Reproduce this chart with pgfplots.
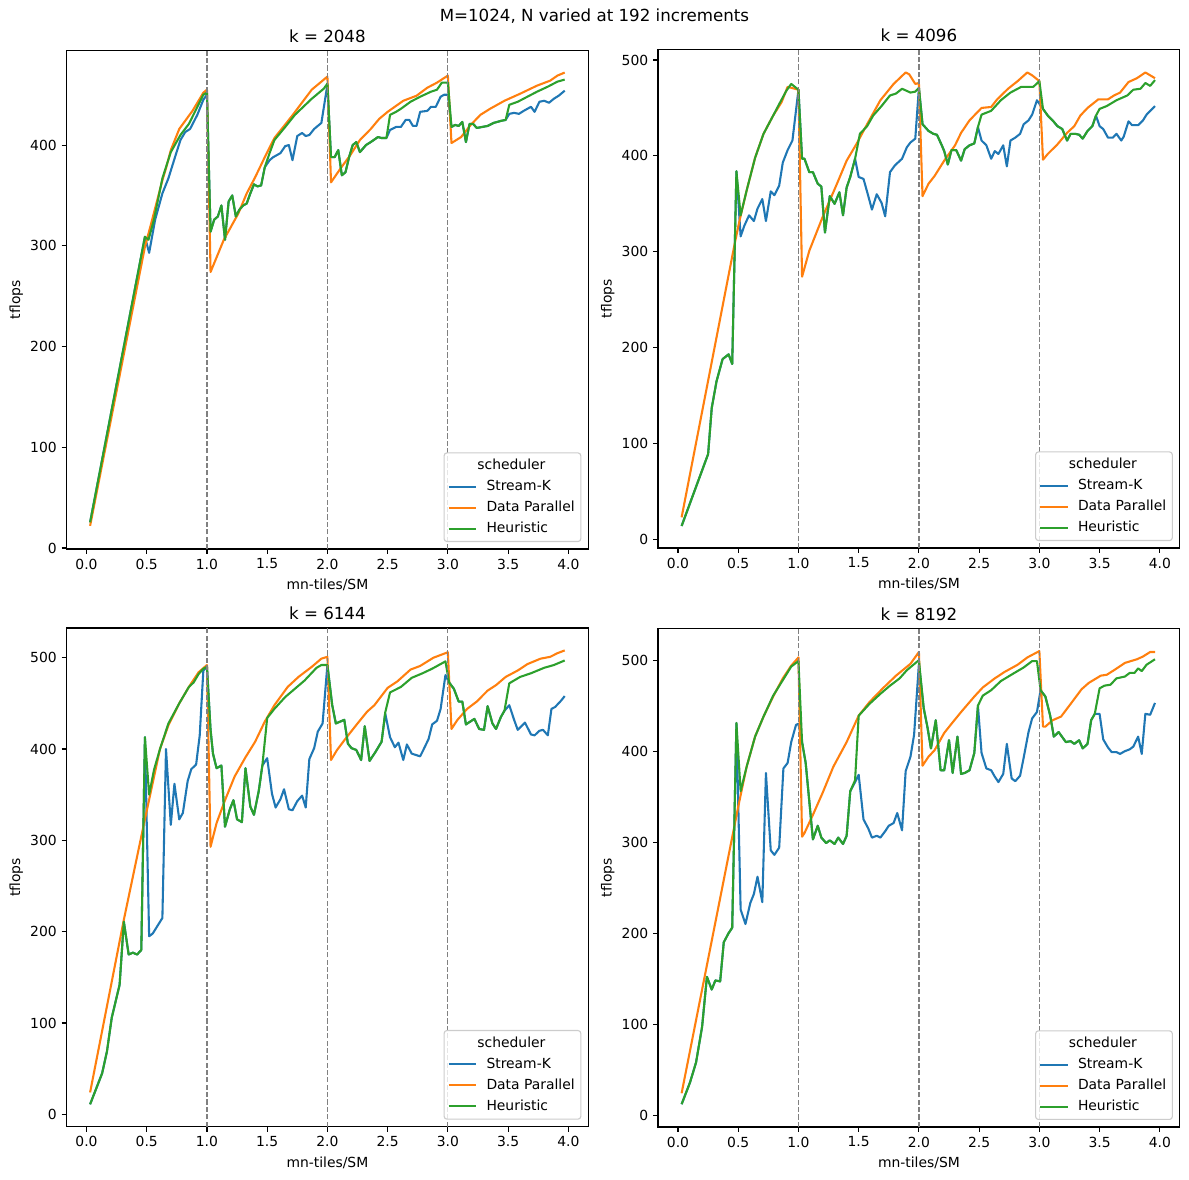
\documentclass[border=0pt]{standalone}
\usepackage{fontspec}
\setmainfont{DejaVu Sans}
\usepackage{pgfplots}
\pgfplotsset{compat=1.18}
\definecolor{c0}{HTML}{1F77B4}
\definecolor{c1}{HTML}{FF7F0E}
\definecolor{c2}{HTML}{2CA02C}
\pgfplotsset{
 panel/.style={
  scale only axis, width=375.7bp, height=359bp,
  xmin=-0.166, xmax=4.166,
  xtick={0,0.5,1,1.5,2,2.5,3,3.5,4},
  xticklabel style={/pgf/number format/.cd, fixed, fixed zerofill, precision=1},
  /pgf/number format/assume math mode=true,
  tick label style={font=\fontsize{10bp}{12bp}\selectfont},
  label style={font=\fontsize{10bp}{12bp}\selectfont},
  xtick pos=bottom, ytick pos=left, tick align=outside,
  major tick length=3.5bp,
  every tick/.style={black, line width=0.8bp},
  axis line style={line width=0.8bp},
  xlabel={mn-tiles/SM}, ylabel={tflops},
  xlabel style={at={(axis description cs:0.5,-0.0724)}, anchor=center},
  ylabel style={at={(axis description cs:-0.096,0.5)}, anchor=center},
  title style={font=\fontsize{12bp}{14bp}\selectfont, at={(0.5,1)}, anchor=base},
  legend style={at={(1,0)}, anchor=south east, xshift=-5bp, yshift=5bp,
    draw=black!20, line width=0.8bp, rounded corners=2bp, fill=white, fill opacity=0.8, text opacity=1,
    font=\fontsize{10bp}{12bp}\selectfont, inner xsep=2.5bp, inner ysep=3bp,
    /tikz/column sep=5bp, /tikz/row sep=2.6bp,
    nodes={inner sep=1.5bp, text height=7.5bp, text depth=2bp}},
  legend cell align=left,
  legend image code/.code={\draw[#1, line width=1.5bp] (0bp,0bp) -- (20bp,0bp);},
  every axis plot/.append style={line width=1.5bp, line join=round},
 },
}
\newcommand{\legtitle}{\addlegendimage{empty legend}\addlegendentry{\hspace*{-28bp}\makebox[91.9bp][c]{scheduler}}}
\newcommand{\vl}[1]{\draw[black!50, line width=0.9bp, dash pattern=on 3.7bp off 1.6bp] ({axis cs:#1,0} |- {rel axis cs:0,0}) -- ({axis cs:#1,0} |- {rel axis cs:0,1});}
\begin{document}
\begin{tikzpicture}
\useasboundingbox (0,0) rectangle (856.08bp,849.6bp);
\node[font=\fontsize{12bp}{14bp}\selectfont] at (428bp,838bp) {M=1024, N varied at 192 increments};

% ---------- k = 2048
\begin{axis}[panel, at={(47.88bp,454.3bp)}, anchor=south west, ymin=-1, ymax=494, ytick={0,100,200,300,400}, title={k = 2048}]
\legtitle
\addplot[c0] coordinates {(0.03,25.5) (0.485,309) (0.52,293) (0.57,326) (0.63,352) (0.68,367) (0.74,390) (0.78,405) (0.82,413) (0.86,416) (0.92,430) (0.97,445) (1.0,450) (1.03,314) (1.06,326) (1.09,329) (1.12,340) (1.15,306) (1.18,344) (1.21,350) (1.24,329) (1.27,336) (1.30,340) (1.33,342) (1.36,352) (1.39,361) (1.42,359) (1.45,360) (1.48,378) (1.52,385) (1.55,388) (1.61,392) (1.65,399) (1.68,400) (1.71,385) (1.75,409) (1.79,412) (1.82,409) (1.85,410) (1.89,416) (1.95,422) (2.0,460) (2.03,388) (2.06,388) (2.09,395) (2.12,370) (2.15,373) (2.18,388) (2.21,400) (2.24,403) (2.27,393) (2.32,400) (2.36,403) (2.42,408) (2.45,407) (2.49,407) (2.52,415) (2.57,418) (2.61,418) (2.65,425) (2.68,425) (2.71,419) (2.74,419) (2.77,433) (2.83,434) (2.86,438) (2.90,438) (2.94,448) (2.97,450) (3.0,450) (3.03,418) (3.06,420) (3.09,419) (3.12,423) (3.15,403) (3.18,421) (3.21,421) (3.24,417) (3.33,419) (3.38,422) (3.44,424) (3.48,425) (3.51,431) (3.55,432) (3.59,431) (3.63,434) (3.69,438) (3.72,433) (3.76,443) (3.80,444) (3.84,442) (3.88,446) (3.92,449) (3.97,454)};
\addlegendentry{Stream-K}
\addplot[c1] coordinates {(0.03,22) (0.485,299) (0.53,319) (0.63,365) (0.66,377) (0.70,395) (0.77,416) (0.88,434) (0.97,452) (1.0,455) (1.03,274) (1.14,306) (1.26,332) (1.33,352) (1.40,368) (1.48,388) (1.56,407) (1.70,428) (1.87,455) (1.97,465) (2.0,468) (2.03,363) (2.11,377) (2.19,390) (2.27,405) (2.36,416) (2.43,426) (2.50,433) (2.63,444) (2.74,449) (2.83,457) (2.91,462) (3.0,469) (3.03,402) (3.11,408) (3.19,420) (3.27,430) (3.35,436) (3.47,444) (3.60,451) (3.74,459) (3.85,464) (3.91,469) (3.97,472)};
\addlegendentry{Data Parallel}
\addplot[c2] coordinates {(0.03,25.5) (0.485,309) (0.515,306) (0.56,326) (0.63,367) (0.70,393) (0.78,410) (0.85,421) (0.90,433) (0.97,450) (1.0,452) (1.03,314) (1.06,326) (1.09,329) (1.12,340) (1.15,306) (1.18,344) (1.21,350) (1.24,329) (1.27,336) (1.30,340) (1.33,342) (1.36,352) (1.39,361) (1.42,359) (1.45,360) (1.48,378) (1.52,392) (1.56,405) (1.65,418) (1.73,430) (1.87,446) (1.97,456) (2.0,461) (2.03,388) (2.06,388) (2.09,395) (2.12,370) (2.15,373) (2.18,388) (2.21,400) (2.24,403) (2.27,393) (2.32,400) (2.36,403) (2.42,408) (2.45,407) (2.49,407) (2.52,430) (2.57,433) (2.61,436) (2.69,443) (2.77,448) (2.86,453) (2.91,455) (2.95,462) (3.0,462) (3.03,418) (3.06,420) (3.09,419) (3.12,423) (3.15,403) (3.18,421) (3.21,421) (3.24,417) (3.33,419) (3.38,422) (3.44,424) (3.48,425) (3.51,440) (3.58,443) (3.66,448) (3.74,453) (3.83,458) (3.91,463) (3.97,465)};
\addlegendentry{Heuristic}
\vl{1}\vl{2}\vl{3}
\end{axis}

% ---------- k = 4096
\begin{axis}[panel, at={(473.76bp,455.0bp)}, anchor=south west, ymin=-9, ymax=511, ytick={0,100,200,300,400,500}, title={k = 4096}]
\legtitle
\addplot[c0] coordinates {(0.03,14) (0.25,89) (0.28,137) (0.32,165) (0.37,188) (0.42,193) (0.45,183) (0.485,384) (0.52,316) (0.55,327) (0.59,338) (0.63,332) (0.66,345) (0.70,355) (0.73,332) (0.77,363) (0.80,359) (0.84,369) (0.87,393) (0.91,406) (0.95,416) (1.0,469) (1.03,397) (1.05,397) (1.09,383) (1.12,383) (1.16,371) (1.19,368) (1.22,320) (1.26,358) (1.30,350) (1.34,362) (1.37,338) (1.40,367) (1.43,378) (1.47,397) (1.50,378) (1.54,376) (1.58,358) (1.61,344) (1.65,360) (1.69,351) (1.72,337) (1.76,383) (1.80,390) (1.86,397) (1.90,409) (1.93,414) (1.97,418) (2.0,471) (2.03,433) (2.08,426) (2.12,423) (2.15,422) (2.19,411) (2.21,405) (2.24,391) (2.27,406) (2.31,406) (2.35,395) (2.38,407) (2.42,411) (2.46,413) (2.49,430) (2.52,416) (2.56,411) (2.60,397) (2.63,405) (2.66,402) (2.70,411) (2.73,389) (2.76,416) (2.80,419) (2.84,423) (2.87,433) (2.91,437) (2.94,443) (2.98,458) (3.03,449) (3.07,442) (3.11,437) (3.15,431) (3.19,428) (3.23,416) (3.26,423) (3.30,423) (3.33,422) (3.36,418) (3.40,426) (3.44,431) (3.47,442) (3.50,431) (3.53,428) (3.57,419) (3.61,419) (3.64,423) (3.68,416) (3.70,420) (3.74,436) (3.77,432) (3.82,432) (3.86,437) (3.89,443) (3.96,452)};
\addlegendentry{Stream-K}
\addplot[c1] coordinates {(0.03,23) (0.47,308) (0.51,332) (0.57,364) (0.64,398) (0.71,423) (0.79,442) (0.86,456) (0.91,472) (0.94,471) (1.0,469) (1.03,274) (1.09,301) (1.20,336) (1.32,371) (1.40,395) (1.48,412) (1.57,433) (1.68,458) (1.79,475) (1.89,487) (1.92,485) (1.97,475) (2.0,476) (2.03,358) (2.08,371) (2.13,379) (2.21,395) (2.30,411) (2.35,424) (2.42,437) (2.52,450) (2.60,451) (2.65,459) (2.74,470) (2.82,478) (2.90,487) (2.94,484) (3.0,478) (3.03,396) (3.07,402) (3.15,412) (3.23,424) (3.29,431) (3.34,442) (3.40,450) (3.49,459) (3.57,459) (3.62,463) (3.67,466) (3.74,477) (3.81,481) (3.88,487) (3.92,484) (3.96,481)};
\addlegendentry{Data Parallel}
\addplot[c2] coordinates {(0.03,14) (0.25,89) (0.28,137) (0.32,165) (0.37,188) (0.42,193) (0.45,183) (0.485,384) (0.52,338) (0.57,364) (0.64,398) (0.71,423) (0.79,442) (0.84,454) (0.90,468) (0.94,475) (1.0,469) (1.03,397) (1.05,397) (1.09,383) (1.12,383) (1.16,371) (1.19,368) (1.22,320) (1.26,358) (1.30,350) (1.34,362) (1.37,338) (1.40,367) (1.43,378) (1.47,397) (1.51,423) (1.57,431) (1.62,442) (1.69,452) (1.76,463) (1.81,465) (1.86,470) (1.93,466) (1.97,467) (2.0,471) (2.03,433) (2.08,426) (2.12,423) (2.15,422) (2.19,411) (2.21,405) (2.24,391) (2.27,406) (2.31,406) (2.35,395) (2.38,407) (2.42,411) (2.46,413) (2.49,430) (2.52,443) (2.60,447) (2.68,458) (2.76,466) (2.85,472) (2.95,472) (3.0,478) (3.03,449) (3.07,442) (3.11,437) (3.15,431) (3.19,428) (3.23,416) (3.26,423) (3.30,423) (3.33,422) (3.36,418) (3.40,426) (3.44,431) (3.47,442) (3.50,449) (3.56,452) (3.64,458) (3.73,463) (3.78,469) (3.84,470) (3.88,476) (3.92,473) (3.96,479)};
\addlegendentry{Heuristic}
\vl{1}\vl{2}\vl{3}
\end{axis}

% ---------- k = 6144
\begin{axis}[panel, at={(47.88bp,38.4bp)}, anchor=south west, ymin=-13.5, ymax=532.5, ytick={0,100,200,300,400,500}, title={k = 6144}]
\legtitle
\addplot[c0] coordinates {(0.03,11) (0.13,45) (0.17,69) (0.21,106) (0.275,142) (0.31,211) (0.35,175) (0.385,177) (0.42,175) (0.455,180) (0.485,413) (0.52,195) (0.55,198) (0.63,215) (0.66,400) (0.70,317) (0.73,362) (0.77,323) (0.80,330) (0.84,365) (0.87,378) (0.91,383) (0.94,415) (0.97,486) (1.0,490) (1.03,421) (1.05,395) (1.08,379) (1.12,382) (1.15,315) (1.19,334) (1.22,344) (1.25,323) (1.29,320) (1.32,379) (1.36,337) (1.39,328) (1.43,354) (1.46,382) (1.50,390) (1.54,351) (1.57,336) (1.61,345) (1.64,356) (1.68,334) (1.71,333) (1.75,343) (1.79,349) (1.82,336) (1.85,389) (1.89,401) (1.92,419) (1.96,428) (2.0,492) (2.04,448) (2.07,428) (2.14,432) (2.17,406) (2.20,401) (2.24,399) (2.28,388) (2.31,425) (2.35,387) (2.40,397) (2.45,408) (2.48,439) (2.52,413) (2.56,402) (2.59,407) (2.63,388) (2.66,405) (2.70,395) (2.77,392) (2.80,400) (2.84,411) (2.87,427) (2.91,431) (2.94,444) (2.98,481) (3.01,473) (3.05,466) (3.09,452) (3.12,452) (3.15,427) (3.22,433) (3.26,422) (3.30,421) (3.33,447) (3.37,428) (3.40,422) (3.44,435) (3.47,442) (3.51,448) (3.55,432) (3.58,421) (3.64,429) (3.69,416) (3.72,415) (3.76,420) (3.79,421) (3.83,415) (3.86,444) (3.89,446) (3.94,453) (3.97,458)};
\addlegendentry{Stream-K}
\addplot[c1] coordinates {(0.03,24) (0.31,213) (0.48,320) (0.545,360) (0.61,400) (0.68,426) (0.77,450) (0.85,468) (0.93,484) (1.0,492) (1.03,293) (1.08,319) (1.15,344) (1.23,370) (1.32,391) (1.40,408) (1.48,430) (1.56,448) (1.67,468) (1.76,479) (1.87,490) (1.95,499) (2.0,501) (2.03,388) (2.08,399) (2.16,413) (2.25,428) (2.33,441) (2.39,448) (2.50,467) (2.58,474) (2.69,487) (2.77,491) (2.88,500) (3.0,506) (3.03,422) (3.08,432) (3.16,444) (3.24,452) (3.33,464) (3.40,470) (3.48,479) (3.58,486) (3.66,493) (3.77,499) (3.85,501) (3.91,505) (3.97,508)};
\addlegendentry{Data Parallel}
\addplot[c2] coordinates {(0.03,11) (0.13,45) (0.17,69) (0.21,106) (0.275,142) (0.31,211) (0.35,175) (0.385,177) (0.42,175) (0.455,180) (0.485,413) (0.52,350) (0.56,377) (0.61,400) (0.68,428) (0.77,450) (0.85,468) (0.89,473) (0.93,482) (0.97,488) (1.0,490) (1.03,421) (1.05,395) (1.08,379) (1.12,382) (1.15,315) (1.19,334) (1.22,344) (1.25,323) (1.29,320) (1.32,379) (1.36,337) (1.39,328) (1.43,354) (1.46,382) (1.50,434) (1.56,444) (1.65,457) (1.73,466) (1.81,475) (1.91,489) (1.95,492) (2.0,492) (2.04,448) (2.07,428) (2.14,432) (2.17,406) (2.20,401) (2.24,399) (2.28,388) (2.31,425) (2.35,387) (2.40,397) (2.45,408) (2.48,440) (2.52,462) (2.61,468) (2.70,478) (2.79,483) (2.87,488) (2.98,496) (3.01,473) (3.05,466) (3.09,452) (3.12,452) (3.15,427) (3.22,433) (3.26,422) (3.30,421) (3.33,447) (3.37,428) (3.40,422) (3.44,435) (3.47,442) (3.51,472) (3.60,479) (3.69,483) (3.80,489) (3.88,492) (3.97,497)};
\addlegendentry{Heuristic}
\vl{1}\vl{2}\vl{3}
\end{axis}

% ---------- k = 8192
\begin{axis}[panel, at={(473.76bp,38.2bp)}, anchor=south west, ymin=-13, ymax=535, ytick={0,100,200,300,400,500}, title={k = 8192}]
\legtitle
\addplot[c0] coordinates {(0.03,12) (0.10,36) (0.15,58) (0.20,97) (0.24,152) (0.28,138) (0.31,148) (0.35,147) (0.38,190) (0.42,200) (0.45,206) (0.485,431) (0.52,226) (0.56,210) (0.60,233) (0.63,243) (0.66,262) (0.70,234) (0.73,376) (0.77,291) (0.80,286) (0.84,294) (0.875,381) (0.91,387) (0.94,410) (0.98,429) (1.0,430) (1.03,410) (1.06,387) (1.12,303) (1.16,318) (1.19,305) (1.23,299) (1.26,302) (1.30,298) (1.33,305) (1.37,298) (1.40,307) (1.43,356) (1.47,366) (1.50,374) (1.54,325) (1.58,315) (1.61,305) (1.65,307) (1.68,305) (1.72,312) (1.75,318) (1.79,321) (1.82,332) (1.86,313) (1.89,378) (1.93,394) (1.96,418) (2.0,496) (2.04,447) (2.07,427) (2.10,403) (2.14,434) (2.18,379) (2.21,379) (2.25,412) (2.28,376) (2.32,416) (2.35,375) (2.38,376) (2.42,379) (2.46,398) (2.49,450) (2.52,398) (2.56,381) (2.60,379) (2.63,372) (2.66,366) (2.70,375) (2.73,408) (2.77,370) (2.80,367) (2.84,373) (2.87,393) (2.91,421) (2.94,436) (2.98,443) (3.01,467) (3.05,460) (3.09,439) (3.12,416) (3.16,421) (3.22,410) (3.26,411) (3.29,408) (3.33,412) (3.36,403) (3.40,408) (3.43,434) (3.46,441) (3.50,441) (3.53,413) (3.57,404) (3.60,399) (3.64,399) (3.67,397) (3.71,400) (3.75,402) (3.78,405) (3.82,416) (3.85,397) (3.88,441) (3.92,440) (3.96,453)};
\addlegendentry{Stream-K}
\addplot[c1] coordinates {(0.03,24) (0.50,339) (0.57,383) (0.64,416) (0.71,438) (0.79,460) (0.87,480) (0.94,494) (1.0,503) (1.03,306) (1.05,310) (1.12,330) (1.20,354) (1.29,383) (1.40,410) (1.50,439) (1.59,454) (1.70,469) (1.81,483) (1.93,496) (2.0,509) (2.03,384) (2.08,394) (2.13,401) (2.21,420) (2.27,430) (2.35,443) (2.46,460) (2.53,470) (2.63,480) (2.71,487) (2.82,495) (2.90,503) (3.0,510) (3.03,427) (3.05,427) (3.11,434) (3.18,438) (3.26,452) (3.35,468) (3.41,475) (3.51,483) (3.56,484) (3.62,489) (3.71,497) (3.81,501) (3.86,504) (3.92,509) (3.96,509)};
\addlegendentry{Data Parallel}
\addplot[c2] coordinates {(0.03,12) (0.10,36) (0.15,58) (0.20,97) (0.24,152) (0.28,138) (0.31,148) (0.35,147) (0.38,190) (0.42,200) (0.45,206) (0.485,431) (0.52,356) (0.57,383) (0.64,416) (0.71,438) (0.79,461) (0.87,478) (0.94,493) (0.98,497) (1.0,499) (1.03,410) (1.06,387) (1.12,303) (1.16,318) (1.19,305) (1.23,299) (1.26,302) (1.30,298) (1.33,305) (1.37,298) (1.40,307) (1.43,356) (1.47,368) (1.50,439) (1.59,452) (1.68,463) (1.76,472) (1.84,480) (1.90,489) (2.0,500) (2.04,447) (2.07,427) (2.10,403) (2.14,434) (2.18,379) (2.21,379) (2.25,412) (2.28,376) (2.32,416) (2.35,375) (2.38,376) (2.42,379) (2.46,398) (2.49,450) (2.53,461) (2.60,467) (2.68,477) (2.78,485) (2.87,492) (2.94,499) (2.98,499) (3.01,467) (3.05,460) (3.09,439) (3.12,416) (3.16,421) (3.22,410) (3.26,411) (3.29,408) (3.33,412) (3.36,403) (3.40,408) (3.43,434) (3.46,441) (3.50,469) (3.54,472) (3.59,473) (3.64,480) (3.71,482) (3.75,486) (3.79,486) (3.82,491) (3.85,488) (3.89,495) (3.96,501)};
\addlegendentry{Heuristic}
\vl{1}\vl{2}\vl{3}
\end{axis}
\end{tikzpicture}
\end{document}
